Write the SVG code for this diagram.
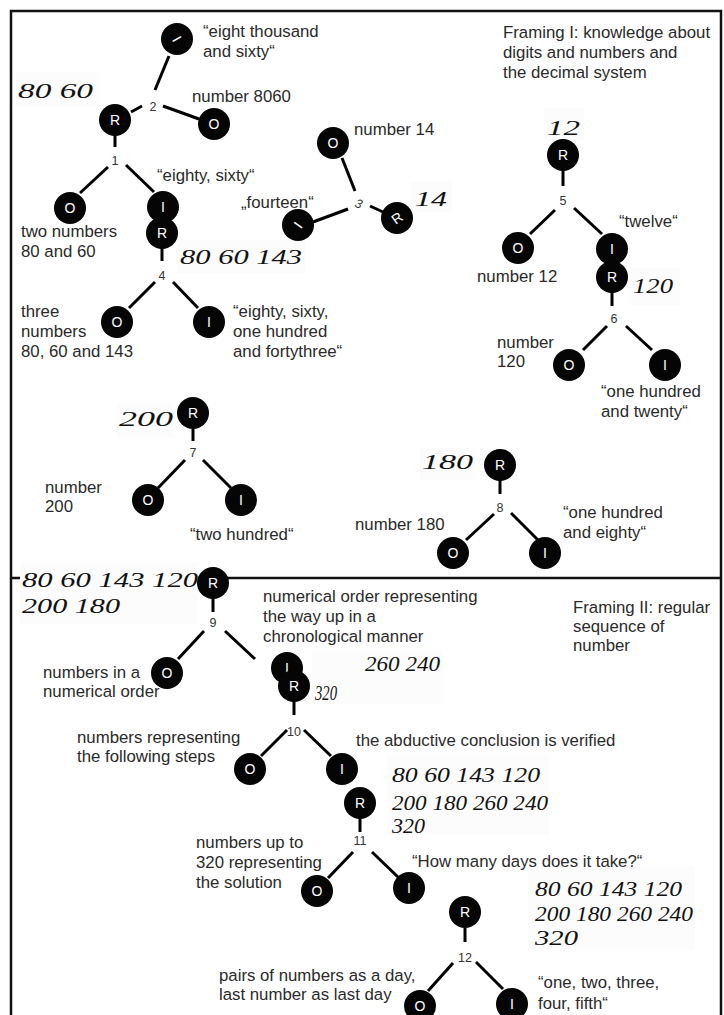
<svg xmlns="http://www.w3.org/2000/svg" width="724" height="1015" viewBox="0 0 724 1015">
<style>
.bg{fill:#fff}
.frame{fill:none;stroke:#111;stroke-width:2.5}
.edge{stroke:#000;stroke-width:3;fill:none}
.node circle{fill:#050505}
.node text{fill:#fff;font-family:"Liberation Sans",Arial,sans-serif;font-size:14px;text-anchor:middle}
.lab{fill:#2a2a2a;font-family:"Liberation Sans",Arial,sans-serif;font-size:16.8px}
.num{fill:#333;font-family:"Liberation Sans",Arial,sans-serif;font-size:12.5px;text-anchor:middle}
.hwbox{fill:#fcfcfc}
.hw{fill:#111;font-family:"Liberation Serif","Times New Roman",serif;font-style:italic;font-size:20px}
</style>
<rect class="bg" x="0" y="0" width="724" height="1015"/>
<path class="frame" d="M11,1016 V11 H721 V1016"/>
<line class="frame" x1="11" y1="578" x2="721" y2="578"/>

<g id="handwriting">
<rect class="hwbox" x="14" y="72" width="84" height="34"/>
<text class="hw" x="18" y="98" textLength="75" lengthAdjust="spacingAndGlyphs">80 60</text>
<rect class="hwbox" x="177" y="240" width="128" height="33"/>
<text class="hw" x="180" y="264" textLength="122" lengthAdjust="spacingAndGlyphs">80 60 143</text>
<rect class="hwbox" x="410" y="182" width="42" height="30"/>
<text class="hw" x="415" y="206" textLength="32" lengthAdjust="spacingAndGlyphs">14</text>
<rect class="hwbox" x="544" y="108" width="40" height="32"/>
<text class="hw" x="547" y="135" textLength="33" lengthAdjust="spacingAndGlyphs">12</text>
<rect class="hwbox" x="630" y="268" width="50" height="37"/>
<text class="hw" x="633" y="293" textLength="40" lengthAdjust="spacingAndGlyphs">120</text>
<rect class="hwbox" x="117" y="403" width="57" height="35"/>
<text class="hw" x="119" y="426" textLength="54" lengthAdjust="spacingAndGlyphs">200</text>
<rect class="hwbox" x="420" y="448" width="55" height="32"/>
<text class="hw" x="422" y="469" textLength="51" lengthAdjust="spacingAndGlyphs">180</text>
<rect class="hwbox" x="20" y="562" width="178" height="62"/>
<text class="hw" x="22" y="587" textLength="176" lengthAdjust="spacingAndGlyphs">80 60 143 120</text>
<text class="hw" x="22" y="613" textLength="98" lengthAdjust="spacingAndGlyphs">200 180</text>
<rect class="hwbox" x="312" y="650" width="130" height="54"/>
<text class="hw" x="365" y="671" textLength="75" lengthAdjust="spacingAndGlyphs">260 240</text>
<text class="hw" x="315" y="700" textLength="22" lengthAdjust="spacingAndGlyphs">320</text>
<rect class="hwbox" x="387" y="755" width="163" height="80"/>
<text class="hw" x="392" y="782" textLength="148" lengthAdjust="spacingAndGlyphs">80 60 143 120</text>
<text class="hw" x="392" y="810" textLength="156" lengthAdjust="spacingAndGlyphs">200 180 260 240</text>
<text class="hw" x="392" y="833" textLength="33" lengthAdjust="spacingAndGlyphs">320</text>
<rect class="hwbox" x="528" y="866" width="167" height="83"/>
<text class="hw" x="535" y="896" textLength="147" lengthAdjust="spacingAndGlyphs">80 60 143 120</text>
<text class="hw" x="535" y="921" textLength="158" lengthAdjust="spacingAndGlyphs">200 180 260 240</text>
<text class="hw" x="535" y="945" textLength="43" lengthAdjust="spacingAndGlyphs">320</text>
</g>

<g id="connectors" class="edge">
<line x1="131" y1="112" x2="142" y2="106"/>
<line x1="169" y1="56" x2="155" y2="90"/>
<line x1="163" y1="106" x2="199" y2="119"/>
<line x1="115" y1="135" x2="115" y2="147"/>
<line x1="108" y1="167" x2="80" y2="193"/>
<line x1="126" y1="165" x2="154" y2="192"/>
<line x1="162" y1="248" x2="162" y2="261"/>
<line x1="155" y1="282" x2="129" y2="308"/>
<line x1="173" y1="282" x2="198" y2="308"/>
<line x1="342" y1="158" x2="355" y2="191"/>
<line x1="313" y1="222" x2="348" y2="209"/>
<line x1="370" y1="206" x2="383" y2="212"/>
<line x1="563" y1="170" x2="563" y2="186"/>
<line x1="555" y1="210" x2="530" y2="234"/>
<line x1="574" y1="208" x2="602" y2="234"/>
<line x1="612" y1="292" x2="612" y2="306"/>
<line x1="607" y1="326" x2="583" y2="350"/>
<line x1="626" y1="326" x2="652" y2="350"/>
<line x1="193" y1="428" x2="193" y2="441"/>
<line x1="185" y1="460" x2="158" y2="488"/>
<line x1="203" y1="460" x2="231" y2="488"/>
<line x1="500" y1="480" x2="500" y2="494"/>
<line x1="494" y1="514" x2="466" y2="540"/>
<line x1="511" y1="513" x2="538" y2="540"/>
<line x1="213" y1="598" x2="213" y2="612"/>
<line x1="204" y1="631" x2="178" y2="659"/>
<line x1="225" y1="631" x2="255" y2="659"/>
<line x1="294" y1="701" x2="294" y2="715"/>
<line x1="287" y1="730" x2="261" y2="756"/>
<line x1="304" y1="730" x2="331" y2="756"/>
<line x1="360" y1="818" x2="360" y2="832"/>
<line x1="353" y1="852" x2="328" y2="878"/>
<line x1="372" y1="852" x2="399" y2="878"/>
<line x1="465" y1="928" x2="465" y2="942"/>
<line x1="453" y1="963" x2="428" y2="991"/>
<line x1="476" y1="962" x2="503" y2="989"/>
</g>

<g id="n1-R" class="node"><circle cx="115" cy="120" r="16"/><text x="115" y="125">R</text></g>
<g id="n2-I" class="node"><circle cx="177" cy="39" r="16"/><text x="177" y="44" transform="rotate(60 177 39)">I</text></g>
<g id="n2-O" class="node"><circle cx="214" cy="124" r="16"/><text x="214" y="129">O</text></g>
<g id="n1-O" class="node"><circle cx="70" cy="208" r="16"/><text x="70" y="213">O</text></g>
<g id="n1-I" class="node"><circle cx="163" cy="207" r="16"/><text x="163" y="212">I</text></g>
<g id="n4-R" class="node"><circle cx="162" cy="233" r="16"/><text x="162" y="238">R</text></g>
<g id="n4-O" class="node"><circle cx="117" cy="322" r="16"/><text x="117" y="327">O</text></g>
<g id="n4-I" class="node"><circle cx="209" cy="322" r="16"/><text x="209" y="327">I</text></g>
<g id="n3-I" class="node"><circle cx="298" cy="225" r="16"/><text x="298" y="230" transform="rotate(-55 298 225)">I</text></g>
<g id="n3-O" class="node"><circle cx="333" cy="143" r="16"/><text x="333" y="148">O</text></g>
<g id="n3-R" class="node"><circle cx="397" cy="218" r="16"/><text x="397" y="223" transform="rotate(-35 397 218)">R</text></g>
<g id="n5-R" class="node"><circle cx="563" cy="155" r="16"/><text x="563" y="160">R</text></g>
<g id="n5-O" class="node"><circle cx="518" cy="248" r="16"/><text x="518" y="253">O</text></g>
<g id="n5-I" class="node"><circle cx="612" cy="249" r="16"/><text x="612" y="254">I</text></g>
<g id="n6-R" class="node"><circle cx="612" cy="277" r="16"/><text x="612" y="282">R</text></g>
<g id="n6-O" class="node"><circle cx="569" cy="365" r="16"/><text x="569" y="370">O</text></g>
<g id="n6-I" class="node"><circle cx="665" cy="365" r="16"/><text x="665" y="370">I</text></g>
<g id="n7-R" class="node"><circle cx="193" cy="413" r="16"/><text x="193" y="418">R</text></g>
<g id="n7-O" class="node"><circle cx="148" cy="500" r="16"/><text x="148" y="505">O</text></g>
<g id="n7-I" class="node"><circle cx="241" cy="500" r="16"/><text x="241" y="505">I</text></g>
<g id="n8-R" class="node"><circle cx="500" cy="465" r="16"/><text x="500" y="470">R</text></g>
<g id="n8-O" class="node"><circle cx="453" cy="553" r="16"/><text x="453" y="558">O</text></g>
<g id="n8-I" class="node"><circle cx="545" cy="553" r="16"/><text x="545" y="558">I</text></g>
<g id="n9-R" class="node"><circle cx="213" cy="583" r="16"/><text x="213" y="588">R</text></g>
<g id="n9-O" class="node"><circle cx="167" cy="673" r="16"/><text x="167" y="678">O</text></g>
<g id="n9-I" class="node"><circle cx="287" cy="668" r="16"/><text x="287" y="673">I</text></g>
<g id="n10-R" class="node"><circle cx="294" cy="686" r="16"/><text x="294" y="691">R</text></g>
<g id="n10-O" class="node"><circle cx="250" cy="769" r="16"/><text x="250" y="774">O</text></g>
<g id="n10-I" class="node"><circle cx="342" cy="769" r="16"/><text x="342" y="774">I</text></g>
<g id="n11-R" class="node"><circle cx="360" cy="803" r="16"/><text x="360" y="808">R</text></g>
<g id="n11-O" class="node"><circle cx="317" cy="891" r="16"/><text x="317" y="896">O</text></g>
<g id="n11-I" class="node"><circle cx="409" cy="888" r="16"/><text x="409" y="893">I</text></g>
<g id="n12-R" class="node"><circle cx="465" cy="912" r="16"/><text x="465" y="917">R</text></g>
<g id="n12-O" class="node"><circle cx="420" cy="1006" r="16"/><text x="420" y="1011">O</text></g>
<g id="n12-I" class="node"><circle cx="512" cy="1004" r="16"/><text x="512" y="1009">I</text></g>

<g id="step-numbers">
<text class="num" x="115" y="165">1</text>
<text class="num" x="153" y="111">2</text>
<text class="num" x="359" y="208" font-style="italic" transform="rotate(20 359 203)">3</text>
<text class="num" x="162" y="280">4</text>
<text class="num" x="563" y="205">5</text>
<text class="num" x="614" y="323">6</text>
<text class="num" x="193" y="457">7</text>
<text class="num" x="500" y="512">8</text>
<text class="num" x="213" y="627">9</text>
<text class="num" x="294" y="736">10</text>
<text class="num" x="360" y="845">11</text>
<text class="num" x="465" y="962">12</text>
</g>

<g id="labels">
<text class="lab" x="203" y="37">“eight thousand</text>
<text class="lab" x="203" y="57">and sixty“</text>
<text class="lab" x="192" y="102">number 8060</text>
<text class="lab" x="157" y="181">“eighty, sixty“</text>
<text class="lab" x="21" y="237">two numbers</text>
<text class="lab" x="21" y="257">80 and 60</text>
<text class="lab" x="21" y="317">three</text>
<text class="lab" x="21" y="337">numbers</text>
<text class="lab" x="21" y="357">80, 60 and 143</text>
<text class="lab" x="233" y="317">“eighty, sixty,</text>
<text class="lab" x="233" y="337">one hundred</text>
<text class="lab" x="233" y="357">and fortythree“</text>
<text class="lab" x="241" y="208">„fourteen“</text>
<text class="lab" x="354" y="135">number 14</text>
<text class="lab" x="503" y="38">Framing I: knowledge about</text>
<text class="lab" x="503" y="58">digits and numbers and</text>
<text class="lab" x="503" y="78">the decimal system</text>
<text class="lab" x="619" y="227">“twelve“</text>
<text class="lab" x="477" y="282">number 12</text>
<text class="lab" x="497" y="348">number</text>
<text class="lab" x="497" y="367">120</text>
<text class="lab" x="601" y="397">“one hundred</text>
<text class="lab" x="601" y="417">and twenty“</text>
<text class="lab" x="45" y="493">number</text>
<text class="lab" x="45" y="512">200</text>
<text class="lab" x="190" y="540">“two hundred“</text>
<text class="lab" x="355" y="530">number 180</text>
<text class="lab" x="563" y="518">“one hundred</text>
<text class="lab" x="563" y="538">and eighty“</text>
<text class="lab" x="263" y="602">numerical order representing</text>
<text class="lab" x="263" y="622">the way up in a</text>
<text class="lab" x="263" y="642">chronological manner</text>
<text class="lab" x="573" y="613">Framing II: regular</text>
<text class="lab" x="573" y="632">sequence of</text>
<text class="lab" x="573" y="651">number</text>
<text class="lab" x="43" y="678">numbers in a</text>
<text class="lab" x="43" y="697">numerical order</text>
<text class="lab" x="356" y="746">the abductive conclusion is verified</text>
<text class="lab" x="77" y="743">numbers representing</text>
<text class="lab" x="77" y="762">the following steps</text>
<text class="lab" x="196" y="848">numbers up to</text>
<text class="lab" x="196" y="868">320 representing</text>
<text class="lab" x="196" y="888">the solution</text>
<text class="lab" x="412" y="867">“How many days does it take?“</text>
<text class="lab" x="219" y="981">pairs of numbers as a day,</text>
<text class="lab" x="219" y="1000">last number as last day</text>
<text class="lab" x="538" y="988">“one, two, three,</text>
<text class="lab" x="538" y="1009">four, fifth“</text>
</g>
</svg>
